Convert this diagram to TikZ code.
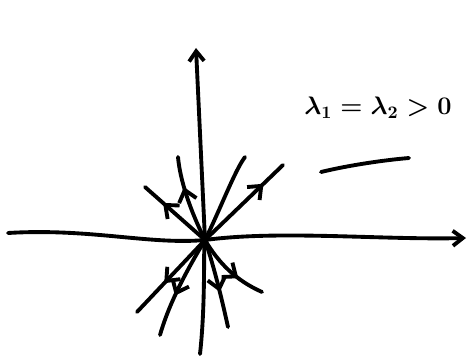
\documentclass[tikz,border=0pt]{standalone}
\usetikzlibrary{arrows.meta,decorations.markings}

\begin{document}
\begin{tikzpicture}[
  x=0.02cm, y=-0.02cm,
  line width=2.2pt, line cap=round, line join=round,
  axis/.style={-{Straight Barb[length=2mm,width=3mm]}},
  ray/.style={postaction={decorate},decoration={markings,
    mark=at position #1 with {\arrow{Straight Barb[length=2.2mm,width=3.6mm]}}}},
  ray/.default=0.6
]
  \useasboundingbox (0,0) rectangle (469,358);
  \coordinate (origin) at (205,240);

  % axes
  \draw[axis] (8,233) .. controls (90,228) and (150,245) .. (origin)
    .. controls (280,230) and (380,240) .. (466,238);
  \draw[axis] (200,354) .. controls (206,300) and (203,240) .. (origin)
    -- (196,48);

  % trajectories leaving the node
  \draw[ray=0.7] (origin) -- (145,187);
  \draw[ray=0.65] (origin) .. controls (190,210) and (180,180) .. (178,157);
  \draw (origin) .. controls (220,210) and (235,170) .. (245,157);
  \draw[ray=0.75] (origin) -- (283,165);
  \draw[ray=0.6] (origin) -- (137,312);
  \draw[ray=0.6] (origin) .. controls (190,265) and (170,300) .. (160,335);
  \draw[ray=0.6] (origin) .. controls (215,270) and (222,300) .. (228,327);
  \draw[ray=0.65] (origin) .. controls (218,262) and (235,280) .. (262,292);

  % label
  \node[font=\Large\boldmath] (eigen) at (378,108) {$\lambda_1=\lambda_2>0$};
  \coordinate (barL) at (321,172);
  \coordinate (barR) at (409,158);
  \draw (barL) .. controls (350,165) and (385,160) .. (barR);
\end{tikzpicture}
\end{document}
